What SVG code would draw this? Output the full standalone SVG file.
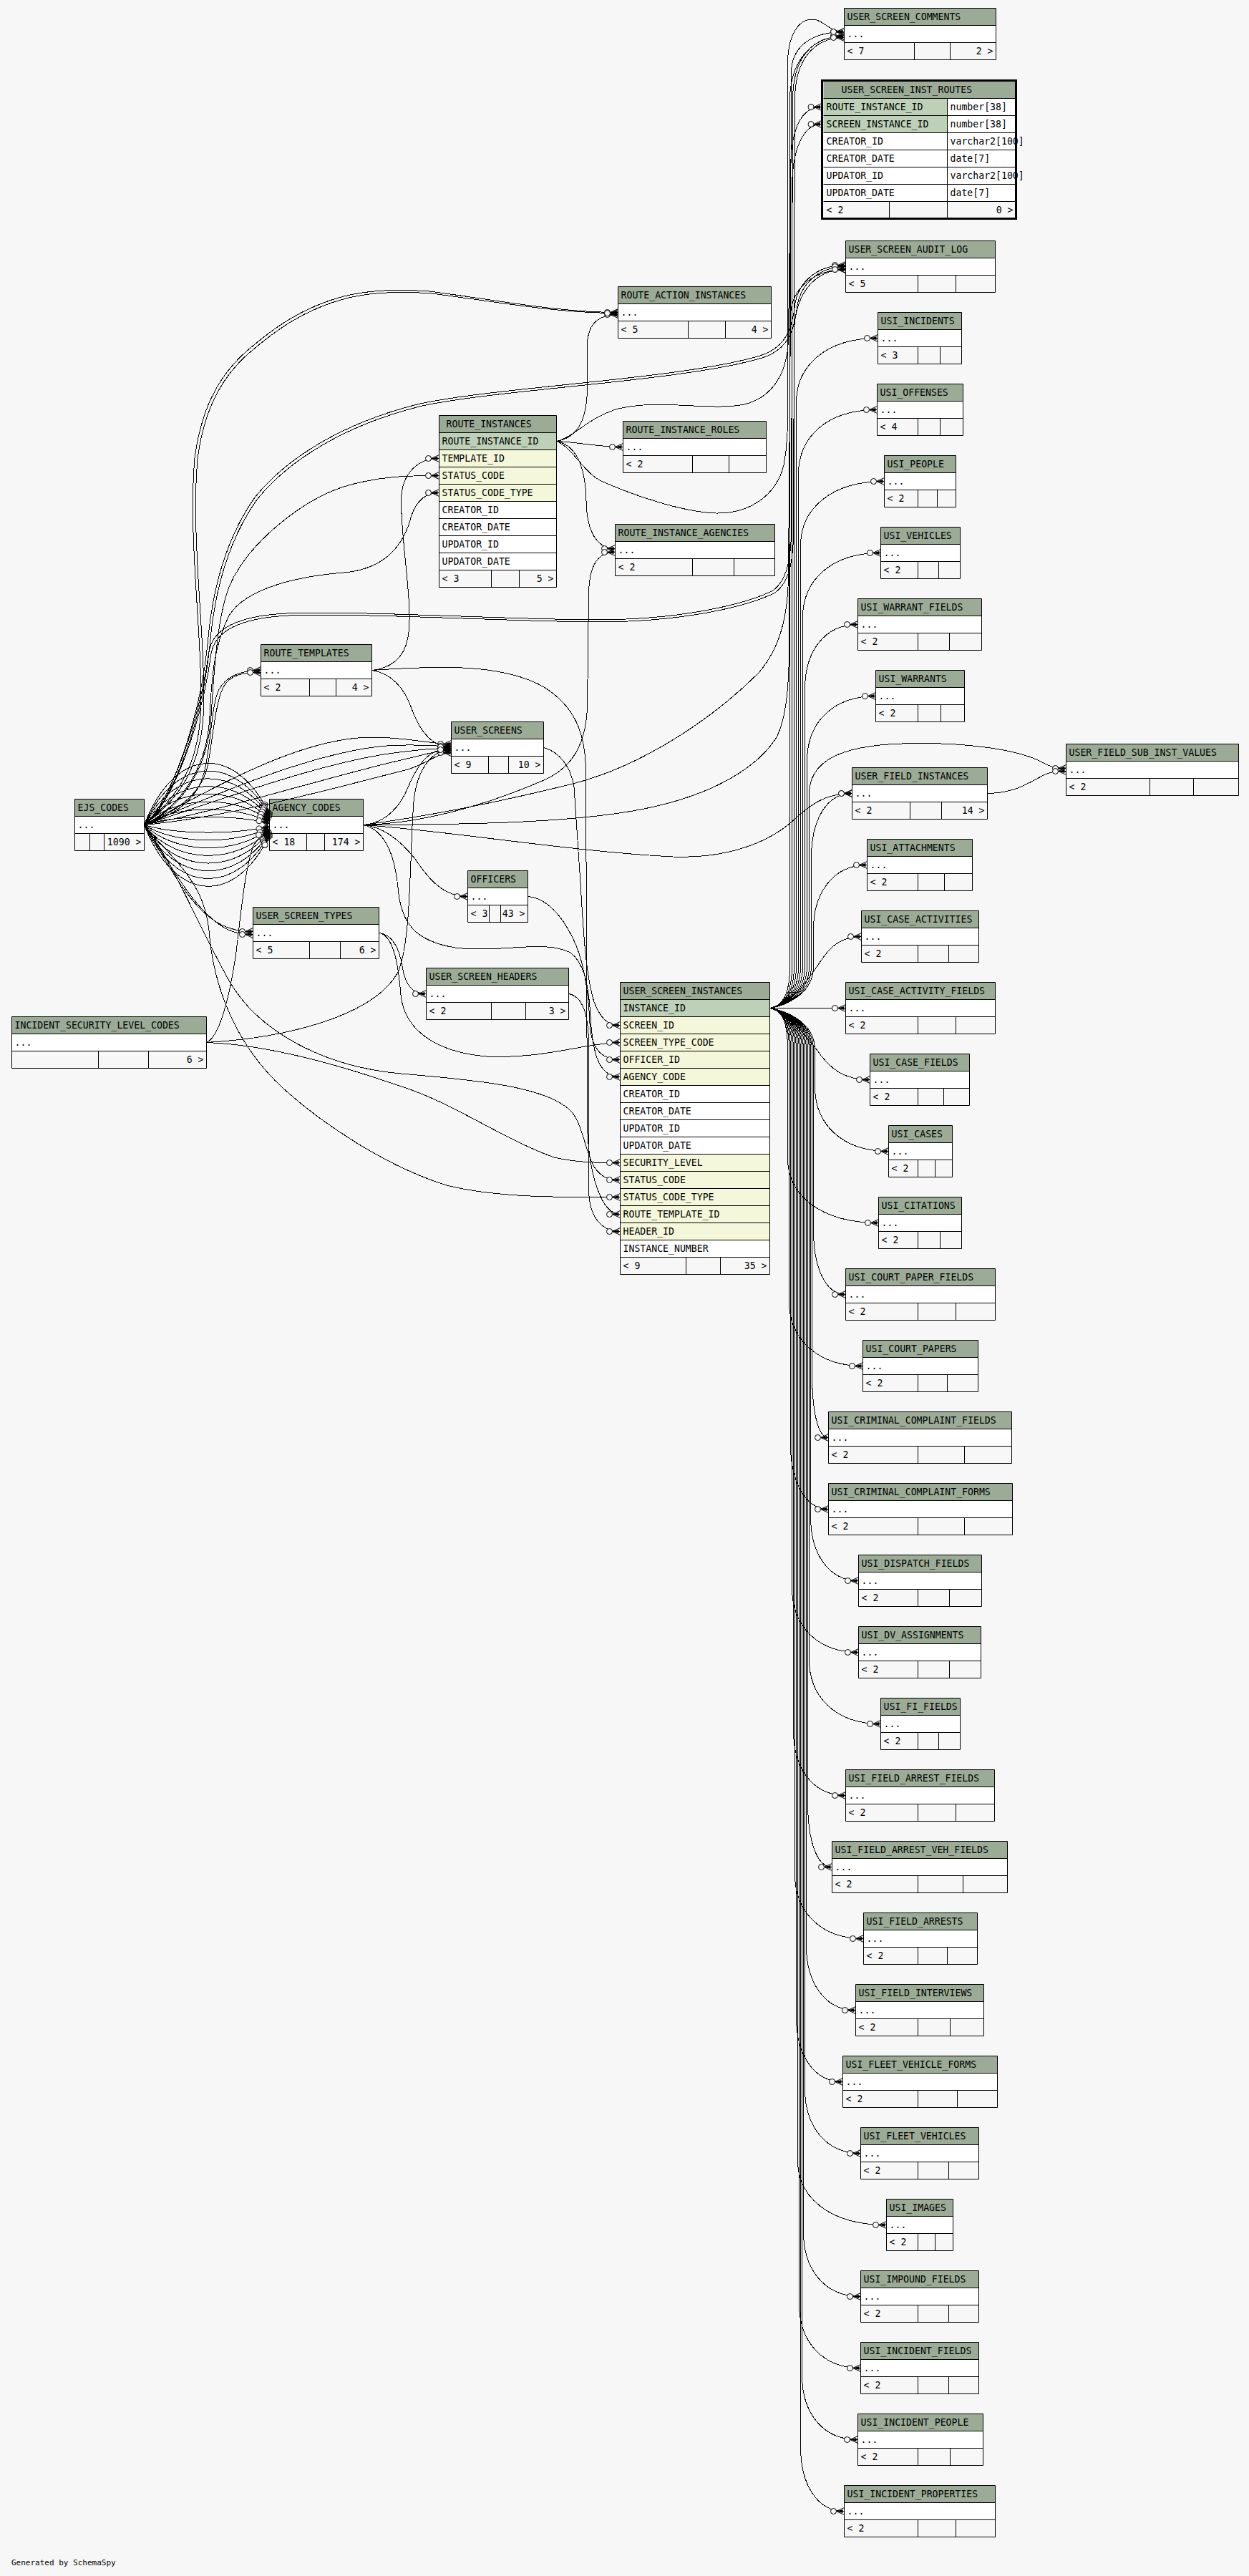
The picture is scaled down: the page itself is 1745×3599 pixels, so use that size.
<svg xmlns="http://www.w3.org/2000/svg" width="1745" height="3599" viewBox="0 0 1745 3599">
<defs>
<style>
.t{font-family:"DejaVu Sans Mono","Liberation Mono",monospace;font-size:13.2px;fill:#000}
.e{text-anchor:end}
.h{fill:#9bab96}.w{fill:#fff}.pk{fill:#bed1b8}.fk{fill:#f4f7da}.f{fill:#f7f7f7}
.b{fill:none;stroke:#000;stroke-width:1}
#edges path{fill:none;stroke:#000;stroke-width:1;marker-end:url(#m);shape-rendering:crispEdges}
</style>
<marker id="m" viewBox="-22 -8 24 16" markerWidth="24" markerHeight="16" refX="0" refY="0" orient="auto" markerUnits="userSpaceOnUse">
<path d="M0,-5 L-11,0 L0,5 M-11,0 L0,0" fill="none" stroke="#000" stroke-width="1"/>
<path d="M-11,0 L-2,-2.5 L-2,2.5 Z" fill="#000"/>
<circle cx="-15" cy="0" r="4" fill="#f7f7f7" stroke="#000" stroke-width="1"/>
</marker>
</defs>
<rect width="1745" height="3599" fill="#f7f7f7"/>

<g id="USER_SCREEN_COMMENTS"><rect class="h" x="1179.5" y="11.5" width="212" height="24"/><rect class="w" x="1179.5" y="35.5" width="212" height="24"/><rect class="f" x="1179.5" y="59.5" width="212" height="24"/><path class="b" d="M1179.5,11.5h212v72h-212z M1179.5,35.5h212 M1179.5,59.5h212 M1277.5,59.5v24 M1327.5,59.5v24"/><text class="t" x="1183.5" y="28">USER_SCREEN_COMMENTS</text><text class="t" x="1183.5" y="52">...</text><text class="t" x="1183.5" y="76">&lt; 7</text><text class="t e" x="1387.5" y="76">2 &gt;</text></g>

<g id="USER_SCREEN_INST_ROUTES">
<rect class="h" x="1150.5" y="113.5" width="269" height="24"/>
<rect class="pk" x="1150.5" y="137.5" width="173" height="48"/>
<rect class="w" x="1323.5" y="137.5" width="96" height="48"/>
<rect class="w" x="1150.5" y="185.5" width="269" height="96"/>
<rect class="f" x="1150.5" y="281.5" width="269" height="24"/>
<path class="b" d="M1150.5,137.5h269 M1150.5,161.5h269 M1150.5,185.5h269 M1150.5,209.5h269 M1150.5,233.5h269 M1150.5,257.5h269 M1150.5,281.5h269 M1323.5,137.5v168 M1242.5,281.5v24"/>
<text class="t" x="1175.5" y="130">USER_SCREEN_INST_ROUTES</text>
<text class="t" x="1154.5" y="154">ROUTE_INSTANCE_ID</text><text class="t" x="1327.5" y="154">number[38]</text>
<text class="t" x="1154.5" y="178">SCREEN_INSTANCE_ID</text><text class="t" x="1327.5" y="178">number[38]</text>
<text class="t" x="1154.5" y="202">CREATOR_ID</text><text class="t" x="1327.5" y="202">varchar2[100]</text>
<text class="t" x="1154.5" y="226">CREATOR_DATE</text><text class="t" x="1327.5" y="226">date[7]</text>
<text class="t" x="1154.5" y="250">UPDATOR_ID</text><text class="t" x="1327.5" y="250">varchar2[100]</text>
<text class="t" x="1154.5" y="274">UPDATOR_DATE</text><text class="t" x="1327.5" y="274">date[7]</text>
<text class="t" x="1154.5" y="298">&lt; 2</text><text class="t e" x="1415.5" y="298">0 &gt;</text>
<rect x="1148.5" y="112.5" width="271" height="193" fill="none" stroke="#000" stroke-width="3"/>
</g>

<g id="USER_SCREEN_AUDIT_LOG"><rect class="h" x="1181.5" y="336.5" width="209" height="24"/><rect class="w" x="1181.5" y="360.5" width="209" height="24"/><rect class="f" x="1181.5" y="384.5" width="209" height="24"/><path class="b" d="M1181.5,336.5h209v72h-209z M1181.5,360.5h209 M1181.5,384.5h209 M1282.5,384.5v24 M1335.5,384.5v24"/><text class="t" x="1185.5" y="353">USER_SCREEN_AUDIT_LOG</text><text class="t" x="1185.5" y="377">...</text><text class="t" x="1185.5" y="401">&lt; 5</text></g>

<g id="ROUTE_ACTION_INSTANCES"><rect class="h" x="863.5" y="400.5" width="214" height="24"/><rect class="w" x="863.5" y="424.5" width="214" height="24"/><rect class="f" x="863.5" y="448.5" width="214" height="24"/><path class="b" d="M863.5,400.5h214v72h-214z M863.5,424.5h214 M863.5,448.5h214 M961.5,448.5v24 M1013.5,448.5v24"/><text class="t" x="867.5" y="417">ROUTE_ACTION_INSTANCES</text><text class="t" x="867.5" y="441">...</text><text class="t" x="867.5" y="465">&lt; 5</text><text class="t e" x="1073.5" y="465">4 &gt;</text></g>

<g id="ROUTE_INSTANCES">
<rect class="h" x="613.5" y="580.5" width="164" height="24"/>
<rect class="pk" x="613.5" y="604.5" width="164" height="24"/>
<rect class="fk" x="613.5" y="628.5" width="164" height="72"/>
<rect class="w" x="613.5" y="700.5" width="164" height="96"/>
<rect class="f" x="613.5" y="796.5" width="164" height="24"/>
<path class="b" d="M613.5,580.5h164v240h-164z M613.5,604.5h164 M613.5,628.5h164 M613.5,652.5h164 M613.5,676.5h164 M613.5,700.5h164 M613.5,724.5h164 M613.5,748.5h164 M613.5,772.5h164 M613.5,796.5h164 M686.5,796.5v24 M725.5,796.5v24"/>
<text class="t" x="623.5" y="597">ROUTE_INSTANCES</text>
<text class="t" x="617.5" y="621">ROUTE_INSTANCE_ID</text>
<text class="t" x="617.5" y="645">TEMPLATE_ID</text>
<text class="t" x="617.5" y="669">STATUS_CODE</text>
<text class="t" x="617.5" y="693">STATUS_CODE_TYPE</text>
<text class="t" x="617.5" y="717">CREATOR_ID</text>
<text class="t" x="617.5" y="741">CREATOR_DATE</text>
<text class="t" x="617.5" y="765">UPDATOR_ID</text>
<text class="t" x="617.5" y="789">UPDATOR_DATE</text>
<text class="t" x="617.5" y="813">&lt; 3</text><text class="t e" x="773.5" y="813">5 &gt;</text>
</g>

<g id="ROUTE_INSTANCE_ROLES"><rect class="h" x="870.5" y="588.5" width="200" height="24"/><rect class="w" x="870.5" y="612.5" width="200" height="24"/><rect class="f" x="870.5" y="636.5" width="200" height="24"/><path class="b" d="M870.5,588.5h200v72h-200z M870.5,612.5h200 M870.5,636.5h200 M967.5,636.5v24 M1018.5,636.5v24"/><text class="t" x="874.5" y="605">ROUTE_INSTANCE_ROLES</text><text class="t" x="874.5" y="629">...</text><text class="t" x="874.5" y="653">&lt; 2</text></g>

<g id="ROUTE_INSTANCE_AGENCIES"><rect class="h" x="859.5" y="732.5" width="223" height="24"/><rect class="w" x="859.5" y="756.5" width="223" height="24"/><rect class="f" x="859.5" y="780.5" width="223" height="24"/><path class="b" d="M859.5,732.5h223v72h-223z M859.5,756.5h223 M859.5,780.5h223 M967.5,780.5v24 M1025.5,780.5v24"/><text class="t" x="863.5" y="749">ROUTE_INSTANCE_AGENCIES</text><text class="t" x="863.5" y="773">...</text><text class="t" x="863.5" y="797">&lt; 2</text></g>

<g id="ROUTE_TEMPLATES"><rect class="h" x="364.5" y="900.5" width="155" height="24"/><rect class="w" x="364.5" y="924.5" width="155" height="24"/><rect class="f" x="364.5" y="948.5" width="155" height="24"/><path class="b" d="M364.5,900.5h155v72h-155z M364.5,924.5h155 M364.5,948.5h155 M432.5,948.5v24 M469.5,948.5v24"/><text class="t" x="368.5" y="917">ROUTE_TEMPLATES</text><text class="t" x="368.5" y="941">...</text><text class="t" x="368.5" y="965">&lt; 2</text><text class="t e" x="515.5" y="965">4 &gt;</text></g>

<g id="USER_SCREENS"><rect class="h" x="630.5" y="1008.5" width="129" height="24"/><rect class="w" x="630.5" y="1032.5" width="129" height="24"/><rect class="f" x="630.5" y="1056.5" width="129" height="24"/><path class="b" d="M630.5,1008.5h129v72h-129z M630.5,1032.5h129 M630.5,1056.5h129 M682.5,1056.5v24 M710.5,1056.5v24"/><text class="t" x="634.5" y="1025">USER_SCREENS</text><text class="t" x="634.5" y="1049">...</text><text class="t" x="634.5" y="1073">&lt; 9</text><text class="t e" x="755.5" y="1073">10 &gt;</text></g>

<g id="EJS_CODES"><rect class="h" x="104.5" y="1116.5" width="97" height="24"/><rect class="w" x="104.5" y="1140.5" width="97" height="24"/><rect class="f" x="104.5" y="1164.5" width="97" height="24"/><path class="b" d="M104.5,1116.5h97v72h-97z M104.5,1140.5h97 M104.5,1164.5h97 M125.5,1164.5v24 M145.5,1164.5v24"/><text class="t" x="108.5" y="1133">EJS_CODES</text><text class="t" x="108.5" y="1157">...</text><text class="t e" x="197.5" y="1181">1090 &gt;</text></g>

<g id="AGENCY_CODES"><rect class="h" x="376.5" y="1116.5" width="131" height="24"/><rect class="w" x="376.5" y="1140.5" width="131" height="24"/><rect class="f" x="376.5" y="1164.5" width="131" height="24"/><path class="b" d="M376.5,1116.5h131v72h-131z M376.5,1140.5h131 M376.5,1164.5h131 M428.5,1164.5v24 M453.5,1164.5v24"/><text class="t" x="380.5" y="1133">AGENCY_CODES</text><text class="t" x="380.5" y="1157">...</text><text class="t" x="380.5" y="1181">&lt; 18</text><text class="t e" x="503.5" y="1181">174 &gt;</text></g>

<g id="OFFICERS"><rect class="h" x="653.5" y="1216.5" width="84" height="24"/><rect class="w" x="653.5" y="1240.5" width="84" height="24"/><rect class="f" x="653.5" y="1264.5" width="84" height="24"/><path class="b" d="M653.5,1216.5h84v72h-84z M653.5,1240.5h84 M653.5,1264.5h84 M683.5,1264.5v24 M699.5,1264.5v24"/><text class="t" x="657.5" y="1233">OFFICERS</text><text class="t" x="657.5" y="1257">...</text><text class="t" x="657.5" y="1281">&lt; 3</text><text class="t e" x="733.5" y="1281">43 &gt;</text></g>

<g id="USER_SCREEN_TYPES"><rect class="h" x="353.5" y="1267.5" width="176" height="24"/><rect class="w" x="353.5" y="1291.5" width="176" height="24"/><rect class="f" x="353.5" y="1315.5" width="176" height="24"/><path class="b" d="M353.5,1267.5h176v72h-176z M353.5,1291.5h176 M353.5,1315.5h176 M432.5,1315.5v24 M475.5,1315.5v24"/><text class="t" x="357.5" y="1284">USER_SCREEN_TYPES</text><text class="t" x="357.5" y="1308">...</text><text class="t" x="357.5" y="1332">&lt; 5</text><text class="t e" x="525.5" y="1332">6 &gt;</text></g>

<g id="USER_SCREEN_HEADERS"><rect class="h" x="595.5" y="1352.5" width="199" height="24"/><rect class="w" x="595.5" y="1376.5" width="199" height="24"/><rect class="f" x="595.5" y="1400.5" width="199" height="24"/><path class="b" d="M595.5,1352.5h199v72h-199z M595.5,1376.5h199 M595.5,1400.5h199 M686.5,1400.5v24 M734.5,1400.5v24"/><text class="t" x="599.5" y="1369">USER_SCREEN_HEADERS</text><text class="t" x="599.5" y="1393">...</text><text class="t" x="599.5" y="1417">&lt; 2</text><text class="t e" x="790.5" y="1417">3 &gt;</text></g>

<g id="INCIDENT_SECURITY_LEVEL_CODES"><rect class="h" x="16.5" y="1420.5" width="272" height="24"/><rect class="w" x="16.5" y="1444.5" width="272" height="24"/><rect class="f" x="16.5" y="1468.5" width="272" height="24"/><path class="b" d="M16.5,1420.5h272v72h-272z M16.5,1444.5h272 M16.5,1468.5h272 M137.5,1468.5v24 M207.5,1468.5v24"/><text class="t" x="20.5" y="1437">INCIDENT_SECURITY_LEVEL_CODES</text><text class="t" x="20.5" y="1461">...</text><text class="t e" x="284.5" y="1485">6 &gt;</text></g>

<g id="USER_SCREEN_INSTANCES">
<rect class="h" x="866.5" y="1372.5" width="209" height="24"/>
<rect class="pk" x="866.5" y="1396.5" width="209" height="24"/>
<rect class="fk" x="866.5" y="1420.5" width="209" height="96"/>
<rect class="w" x="866.5" y="1516.5" width="209" height="96"/>
<rect class="fk" x="866.5" y="1612.5" width="209" height="120"/>
<rect class="w" x="866.5" y="1732.5" width="209" height="24"/>
<rect class="f" x="866.5" y="1756.5" width="209" height="24"/>
<path class="b" d="M866.5,1372.5h209v408h-209z M866.5,1396.5h209 M866.5,1420.5h209 M866.5,1444.5h209 M866.5,1468.5h209 M866.5,1492.5h209 M866.5,1516.5h209 M866.5,1540.5h209 M866.5,1564.5h209 M866.5,1588.5h209 M866.5,1612.5h209 M866.5,1636.5h209 M866.5,1660.5h209 M866.5,1684.5h209 M866.5,1708.5h209 M866.5,1732.5h209 M866.5,1756.5h209 M958.5,1756.5v24 M1006.5,1756.5v24"/>
<text class="t" x="870.5" y="1389">USER_SCREEN_INSTANCES</text>
<text class="t" x="870.5" y="1413">INSTANCE_ID</text>
<text class="t" x="870.5" y="1437">SCREEN_ID</text>
<text class="t" x="870.5" y="1461">SCREEN_TYPE_CODE</text>
<text class="t" x="870.5" y="1485">OFFICER_ID</text>
<text class="t" x="870.5" y="1509">AGENCY_CODE</text>
<text class="t" x="870.5" y="1533">CREATOR_ID</text>
<text class="t" x="870.5" y="1557">CREATOR_DATE</text>
<text class="t" x="870.5" y="1581">UPDATOR_ID</text>
<text class="t" x="870.5" y="1605">UPDATOR_DATE</text>
<text class="t" x="870.5" y="1629">SECURITY_LEVEL</text>
<text class="t" x="870.5" y="1653">STATUS_CODE</text>
<text class="t" x="870.5" y="1677">STATUS_CODE_TYPE</text>
<text class="t" x="870.5" y="1701">ROUTE_TEMPLATE_ID</text>
<text class="t" x="870.5" y="1725">HEADER_ID</text>
<text class="t" x="870.5" y="1749">INSTANCE_NUMBER</text>
<text class="t" x="870.5" y="1773">&lt; 9</text><text class="t e" x="1071.5" y="1773">35 &gt;</text>
</g>

<g id="USER_FIELD_SUB_INST_VALUES"><rect class="h" x="1489.5" y="1039.5" width="241" height="24"/><rect class="w" x="1489.5" y="1063.5" width="241" height="24"/><rect class="f" x="1489.5" y="1087.5" width="241" height="24"/><path class="b" d="M1489.5,1039.5h241v72h-241z M1489.5,1063.5h241 M1489.5,1087.5h241 M1606.5,1087.5v24 M1667.5,1087.5v24"/><text class="t" x="1493.5" y="1056">USER_FIELD_SUB_INST_VALUES</text><text class="t" x="1493.5" y="1080">...</text><text class="t" x="1493.5" y="1104">&lt; 2</text></g>

<g id="USER_FIELD_INSTANCES"><rect class="h" x="1190.5" y="1072.5" width="189" height="24"/><rect class="w" x="1190.5" y="1096.5" width="189" height="24"/><rect class="f" x="1190.5" y="1120.5" width="189" height="24"/><path class="b" d="M1190.5,1072.5h189v72h-189z M1190.5,1096.5h189 M1190.5,1120.5h189 M1271.5,1120.5v24 M1315.5,1120.5v24"/><text class="t" x="1194.5" y="1089">USER_FIELD_INSTANCES</text><text class="t" x="1194.5" y="1113">...</text><text class="t" x="1194.5" y="1137">&lt; 2</text><text class="t e" x="1375.5" y="1137">14 &gt;</text></g>

<g id="USI_INCIDENTS"><rect class="h" x="1226.5" y="436.5" width="117" height="24"/><rect class="w" x="1226.5" y="460.5" width="117" height="24"/><rect class="f" x="1226.5" y="484.5" width="117" height="24"/><path class="b" d="M1226.5,436.5h117v72h-117z M1226.5,460.5h117 M1226.5,484.5h117 M1282.5,484.5v24 M1313.5,484.5v24"/><text class="t" x="1230.5" y="453">USI_INCIDENTS</text><text class="t" x="1230.5" y="477">...</text><text class="t" x="1230.5" y="501">&lt; 3</text></g>
<g id="USI_OFFENSES"><rect class="h" x="1225.5" y="536.5" width="120" height="24"/><rect class="w" x="1225.5" y="560.5" width="120" height="24"/><rect class="f" x="1225.5" y="584.5" width="120" height="24"/><path class="b" d="M1225.5,536.5h120v72h-120z M1225.5,560.5h120 M1225.5,584.5h120 M1282.5,584.5v24 M1313.5,584.5v24"/><text class="t" x="1229.5" y="553">USI_OFFENSES</text><text class="t" x="1229.5" y="577">...</text><text class="t" x="1229.5" y="601">&lt; 4</text></g>
<g id="USI_PEOPLE"><rect class="h" x="1235.5" y="636.5" width="100" height="24"/><rect class="w" x="1235.5" y="660.5" width="100" height="24"/><rect class="f" x="1235.5" y="684.5" width="100" height="24"/><path class="b" d="M1235.5,636.5h100v72h-100z M1235.5,660.5h100 M1235.5,684.5h100 M1282.5,684.5v24 M1309.5,684.5v24"/><text class="t" x="1239.5" y="653">USI_PEOPLE</text><text class="t" x="1239.5" y="677">...</text><text class="t" x="1239.5" y="701">&lt; 2</text></g>
<g id="USI_VEHICLES"><rect class="h" x="1230.5" y="736.5" width="111" height="24"/><rect class="w" x="1230.5" y="760.5" width="111" height="24"/><rect class="f" x="1230.5" y="784.5" width="111" height="24"/><path class="b" d="M1230.5,736.5h111v72h-111z M1230.5,760.5h111 M1230.5,784.5h111 M1282.5,784.5v24 M1311.5,784.5v24"/><text class="t" x="1234.5" y="753">USI_VEHICLES</text><text class="t" x="1234.5" y="777">...</text><text class="t" x="1234.5" y="801">&lt; 2</text></g>
<g id="USI_WARRANT_FIELDS"><rect class="h" x="1198.5" y="836.5" width="173" height="24"/><rect class="w" x="1198.5" y="860.5" width="173" height="24"/><rect class="f" x="1198.5" y="884.5" width="173" height="24"/><path class="b" d="M1198.5,836.5h173v72h-173z M1198.5,860.5h173 M1198.5,884.5h173 M1282.5,884.5v24 M1326.5,884.5v24"/><text class="t" x="1202.5" y="853">USI_WARRANT_FIELDS</text><text class="t" x="1202.5" y="877">...</text><text class="t" x="1202.5" y="901">&lt; 2</text></g>
<g id="USI_WARRANTS"><rect class="h" x="1223.5" y="936.5" width="124" height="24"/><rect class="w" x="1223.5" y="960.5" width="124" height="24"/><rect class="f" x="1223.5" y="984.5" width="124" height="24"/><path class="b" d="M1223.5,936.5h124v72h-124z M1223.5,960.5h124 M1223.5,984.5h124 M1282.5,984.5v24 M1314.5,984.5v24"/><text class="t" x="1227.5" y="953">USI_WARRANTS</text><text class="t" x="1227.5" y="977">...</text><text class="t" x="1227.5" y="1001">&lt; 2</text></g>
<g id="USI_ATTACHMENTS"><rect class="h" x="1211.5" y="1172.5" width="147" height="24"/><rect class="w" x="1211.5" y="1196.5" width="147" height="24"/><rect class="f" x="1211.5" y="1220.5" width="147" height="24"/><path class="b" d="M1211.5,1172.5h147v72h-147z M1211.5,1196.5h147 M1211.5,1220.5h147 M1282.5,1220.5v24 M1319.5,1220.5v24"/><text class="t" x="1215.5" y="1189">USI_ATTACHMENTS</text><text class="t" x="1215.5" y="1213">...</text><text class="t" x="1215.5" y="1237">&lt; 2</text></g>
<g id="USI_CASE_ACTIVITIES"><rect class="h" x="1203.5" y="1272.5" width="164" height="24"/><rect class="w" x="1203.5" y="1296.5" width="164" height="24"/><rect class="f" x="1203.5" y="1320.5" width="164" height="24"/><path class="b" d="M1203.5,1272.5h164v72h-164z M1203.5,1296.5h164 M1203.5,1320.5h164 M1282.5,1320.5v24 M1325.5,1320.5v24"/><text class="t" x="1207.5" y="1289">USI_CASE_ACTIVITIES</text><text class="t" x="1207.5" y="1313">...</text><text class="t" x="1207.5" y="1337">&lt; 2</text></g>
<g id="USI_CASE_ACTIVITY_FIELDS"><rect class="h" x="1181.5" y="1372.5" width="209" height="24"/><rect class="w" x="1181.5" y="1396.5" width="209" height="24"/><rect class="f" x="1181.5" y="1420.5" width="209" height="24"/><path class="b" d="M1181.5,1372.5h209v72h-209z M1181.5,1396.5h209 M1181.5,1420.5h209 M1282.5,1420.5v24 M1335.5,1420.5v24"/><text class="t" x="1185.5" y="1389">USI_CASE_ACTIVITY_FIELDS</text><text class="t" x="1185.5" y="1413">...</text><text class="t" x="1185.5" y="1437">&lt; 2</text></g>
<g id="USI_CASE_FIELDS"><rect class="h" x="1215.5" y="1472.5" width="139" height="24"/><rect class="w" x="1215.5" y="1496.5" width="139" height="24"/><rect class="f" x="1215.5" y="1520.5" width="139" height="24"/><path class="b" d="M1215.5,1472.5h139v72h-139z M1215.5,1496.5h139 M1215.5,1520.5h139 M1282.5,1520.5v24 M1318.5,1520.5v24"/><text class="t" x="1219.5" y="1489">USI_CASE_FIELDS</text><text class="t" x="1219.5" y="1513">...</text><text class="t" x="1219.5" y="1537">&lt; 2</text></g>
<g id="USI_CASES"><rect class="h" x="1241.5" y="1572.5" width="89" height="24"/><rect class="w" x="1241.5" y="1596.5" width="89" height="24"/><rect class="f" x="1241.5" y="1620.5" width="89" height="24"/><path class="b" d="M1241.5,1572.5h89v72h-89z M1241.5,1596.5h89 M1241.5,1620.5h89 M1282.5,1620.5v24 M1306.5,1620.5v24"/><text class="t" x="1245.5" y="1589">USI_CASES</text><text class="t" x="1245.5" y="1613">...</text><text class="t" x="1245.5" y="1637">&lt; 2</text></g>
<g id="USI_CITATIONS"><rect class="h" x="1227.5" y="1672.5" width="116" height="24"/><rect class="w" x="1227.5" y="1696.5" width="116" height="24"/><rect class="f" x="1227.5" y="1720.5" width="116" height="24"/><path class="b" d="M1227.5,1672.5h116v72h-116z M1227.5,1696.5h116 M1227.5,1720.5h116 M1282.5,1720.5v24 M1313.5,1720.5v24"/><text class="t" x="1231.5" y="1689">USI_CITATIONS</text><text class="t" x="1231.5" y="1713">...</text><text class="t" x="1231.5" y="1737">&lt; 2</text></g>
<g id="USI_COURT_PAPER_FIELDS"><rect class="h" x="1181.5" y="1772.5" width="209" height="24"/><rect class="w" x="1181.5" y="1796.5" width="209" height="24"/><rect class="f" x="1181.5" y="1820.5" width="209" height="24"/><path class="b" d="M1181.5,1772.5h209v72h-209z M1181.5,1796.5h209 M1181.5,1820.5h209 M1282.5,1820.5v24 M1335.5,1820.5v24"/><text class="t" x="1185.5" y="1789">USI_COURT_PAPER_FIELDS</text><text class="t" x="1185.5" y="1813">...</text><text class="t" x="1185.5" y="1837">&lt; 2</text></g>
<g id="USI_COURT_PAPERS"><rect class="h" x="1205.5" y="1872.5" width="161" height="24"/><rect class="w" x="1205.5" y="1896.5" width="161" height="24"/><rect class="f" x="1205.5" y="1920.5" width="161" height="24"/><path class="b" d="M1205.5,1872.5h161v72h-161z M1205.5,1896.5h161 M1205.5,1920.5h161 M1282.5,1920.5v24 M1323.5,1920.5v24"/><text class="t" x="1209.5" y="1889">USI_COURT_PAPERS</text><text class="t" x="1209.5" y="1913">...</text><text class="t" x="1209.5" y="1937">&lt; 2</text></g>
<g id="USI_CRIMINAL_COMPLAINT_FIELDS"><rect class="h" x="1157.5" y="1972.5" width="256" height="24"/><rect class="w" x="1157.5" y="1996.5" width="256" height="24"/><rect class="f" x="1157.5" y="2020.5" width="256" height="24"/><path class="b" d="M1157.5,1972.5h256v72h-256z M1157.5,1996.5h256 M1157.5,2020.5h256 M1282.5,2020.5v24 M1347.5,2020.5v24"/><text class="t" x="1161.5" y="1989">USI_CRIMINAL_COMPLAINT_FIELDS</text><text class="t" x="1161.5" y="2013">...</text><text class="t" x="1161.5" y="2037">&lt; 2</text></g>
<g id="USI_CRIMINAL_COMPLAINT_FORMS"><rect class="h" x="1157.5" y="2072.5" width="257" height="24"/><rect class="w" x="1157.5" y="2096.5" width="257" height="24"/><rect class="f" x="1157.5" y="2120.5" width="257" height="24"/><path class="b" d="M1157.5,2072.5h257v72h-257z M1157.5,2096.5h257 M1157.5,2120.5h257 M1282.5,2120.5v24 M1347.5,2120.5v24"/><text class="t" x="1161.5" y="2089">USI_CRIMINAL_COMPLAINT_FORMS</text><text class="t" x="1161.5" y="2113">...</text><text class="t" x="1161.5" y="2137">&lt; 2</text></g>
<g id="USI_DISPATCH_FIELDS"><rect class="h" x="1199.5" y="2172.5" width="172" height="24"/><rect class="w" x="1199.5" y="2196.5" width="172" height="24"/><rect class="f" x="1199.5" y="2220.5" width="172" height="24"/><path class="b" d="M1199.5,2172.5h172v72h-172z M1199.5,2196.5h172 M1199.5,2220.5h172 M1282.5,2220.5v24 M1326.5,2220.5v24"/><text class="t" x="1203.5" y="2189">USI_DISPATCH_FIELDS</text><text class="t" x="1203.5" y="2213">...</text><text class="t" x="1203.5" y="2237">&lt; 2</text></g>
<g id="USI_DV_ASSIGNMENTS"><rect class="h" x="1199.5" y="2272.5" width="171" height="24"/><rect class="w" x="1199.5" y="2296.5" width="171" height="24"/><rect class="f" x="1199.5" y="2320.5" width="171" height="24"/><path class="b" d="M1199.5,2272.5h171v72h-171z M1199.5,2296.5h171 M1199.5,2320.5h171 M1282.5,2320.5v24 M1326.5,2320.5v24"/><text class="t" x="1203.5" y="2289">USI_DV_ASSIGNMENTS</text><text class="t" x="1203.5" y="2313">...</text><text class="t" x="1203.5" y="2337">&lt; 2</text></g>
<g id="USI_FI_FIELDS"><rect class="h" x="1230.5" y="2372.5" width="111" height="24"/><rect class="w" x="1230.5" y="2396.5" width="111" height="24"/><rect class="f" x="1230.5" y="2420.5" width="111" height="24"/><path class="b" d="M1230.5,2372.5h111v72h-111z M1230.5,2396.5h111 M1230.5,2420.5h111 M1282.5,2420.5v24 M1311.5,2420.5v24"/><text class="t" x="1234.5" y="2389">USI_FI_FIELDS</text><text class="t" x="1234.5" y="2413">...</text><text class="t" x="1234.5" y="2437">&lt; 2</text></g>
<g id="USI_FIELD_ARREST_FIELDS"><rect class="h" x="1181.5" y="2472.5" width="208" height="24"/><rect class="w" x="1181.5" y="2496.5" width="208" height="24"/><rect class="f" x="1181.5" y="2520.5" width="208" height="24"/><path class="b" d="M1181.5,2472.5h208v72h-208z M1181.5,2496.5h208 M1181.5,2520.5h208 M1282.5,2520.5v24 M1335.5,2520.5v24"/><text class="t" x="1185.5" y="2489">USI_FIELD_ARREST_FIELDS</text><text class="t" x="1185.5" y="2513">...</text><text class="t" x="1185.5" y="2537">&lt; 2</text></g>
<g id="USI_FIELD_ARREST_VEH_FIELDS"><rect class="h" x="1162.5" y="2572.5" width="245" height="24"/><rect class="w" x="1162.5" y="2596.5" width="245" height="24"/><rect class="f" x="1162.5" y="2620.5" width="245" height="24"/><path class="b" d="M1162.5,2572.5h245v72h-245z M1162.5,2596.5h245 M1162.5,2620.5h245 M1282.5,2620.5v24 M1345.5,2620.5v24"/><text class="t" x="1166.5" y="2589">USI_FIELD_ARREST_VEH_FIELDS</text><text class="t" x="1166.5" y="2613">...</text><text class="t" x="1166.5" y="2637">&lt; 2</text></g>
<g id="USI_FIELD_ARRESTS"><rect class="h" x="1206.5" y="2672.5" width="159" height="24"/><rect class="w" x="1206.5" y="2696.5" width="159" height="24"/><rect class="f" x="1206.5" y="2720.5" width="159" height="24"/><path class="b" d="M1206.5,2672.5h159v72h-159z M1206.5,2696.5h159 M1206.5,2720.5h159 M1282.5,2720.5v24 M1323.5,2720.5v24"/><text class="t" x="1210.5" y="2689">USI_FIELD_ARRESTS</text><text class="t" x="1210.5" y="2713">...</text><text class="t" x="1210.5" y="2737">&lt; 2</text></g>
<g id="USI_FIELD_INTERVIEWS"><rect class="h" x="1195.5" y="2772.5" width="179" height="24"/><rect class="w" x="1195.5" y="2796.5" width="179" height="24"/><rect class="f" x="1195.5" y="2820.5" width="179" height="24"/><path class="b" d="M1195.5,2772.5h179v72h-179z M1195.5,2796.5h179 M1195.5,2820.5h179 M1282.5,2820.5v24 M1327.5,2820.5v24"/><text class="t" x="1199.5" y="2789">USI_FIELD_INTERVIEWS</text><text class="t" x="1199.5" y="2813">...</text><text class="t" x="1199.5" y="2837">&lt; 2</text></g>
<g id="USI_FLEET_VEHICLE_FORMS"><rect class="h" x="1177.5" y="2872.5" width="216" height="24"/><rect class="w" x="1177.5" y="2896.5" width="216" height="24"/><rect class="f" x="1177.5" y="2920.5" width="216" height="24"/><path class="b" d="M1177.5,2872.5h216v72h-216z M1177.5,2896.5h216 M1177.5,2920.5h216 M1282.5,2920.5v24 M1337.5,2920.5v24"/><text class="t" x="1181.5" y="2889">USI_FLEET_VEHICLE_FORMS</text><text class="t" x="1181.5" y="2913">...</text><text class="t" x="1181.5" y="2937">&lt; 2</text></g>
<g id="USI_FLEET_VEHICLES"><rect class="h" x="1202.5" y="2972.5" width="165" height="24"/><rect class="w" x="1202.5" y="2996.5" width="165" height="24"/><rect class="f" x="1202.5" y="3020.5" width="165" height="24"/><path class="b" d="M1202.5,2972.5h165v72h-165z M1202.5,2996.5h165 M1202.5,3020.5h165 M1282.5,3020.5v24 M1325.5,3020.5v24"/><text class="t" x="1206.5" y="2989">USI_FLEET_VEHICLES</text><text class="t" x="1206.5" y="3013">...</text><text class="t" x="1206.5" y="3037">&lt; 2</text></g>
<g id="USI_IMAGES"><rect class="h" x="1238.5" y="3072.5" width="93" height="24"/><rect class="w" x="1238.5" y="3096.5" width="93" height="24"/><rect class="f" x="1238.5" y="3120.5" width="93" height="24"/><path class="b" d="M1238.5,3072.5h93v72h-93z M1238.5,3096.5h93 M1238.5,3120.5h93 M1282.5,3120.5v24 M1306.5,3120.5v24"/><text class="t" x="1242.5" y="3089">USI_IMAGES</text><text class="t" x="1242.5" y="3113">...</text><text class="t" x="1242.5" y="3137">&lt; 2</text></g>
<g id="USI_IMPOUND_FIELDS"><rect class="h" x="1202.5" y="3172.5" width="165" height="24"/><rect class="w" x="1202.5" y="3196.5" width="165" height="24"/><rect class="f" x="1202.5" y="3220.5" width="165" height="24"/><path class="b" d="M1202.5,3172.5h165v72h-165z M1202.5,3196.5h165 M1202.5,3220.5h165 M1282.5,3220.5v24 M1325.5,3220.5v24"/><text class="t" x="1206.5" y="3189">USI_IMPOUND_FIELDS</text><text class="t" x="1206.5" y="3213">...</text><text class="t" x="1206.5" y="3237">&lt; 2</text></g>
<g id="USI_INCIDENT_FIELDS"><rect class="h" x="1202.5" y="3272.5" width="165" height="24"/><rect class="w" x="1202.5" y="3296.5" width="165" height="24"/><rect class="f" x="1202.5" y="3320.5" width="165" height="24"/><path class="b" d="M1202.5,3272.5h165v72h-165z M1202.5,3296.5h165 M1202.5,3320.5h165 M1282.5,3320.5v24 M1325.5,3320.5v24"/><text class="t" x="1206.5" y="3289">USI_INCIDENT_FIELDS</text><text class="t" x="1206.5" y="3313">...</text><text class="t" x="1206.5" y="3337">&lt; 2</text></g>
<g id="USI_INCIDENT_PEOPLE"><rect class="h" x="1198.5" y="3372.5" width="175" height="24"/><rect class="w" x="1198.5" y="3396.5" width="175" height="24"/><rect class="f" x="1198.5" y="3420.5" width="175" height="24"/><path class="b" d="M1198.5,3372.5h175v72h-175z M1198.5,3396.5h175 M1198.5,3420.5h175 M1282.5,3420.5v24 M1327.5,3420.5v24"/><text class="t" x="1202.5" y="3389">USI_INCIDENT_PEOPLE</text><text class="t" x="1202.5" y="3413">...</text><text class="t" x="1202.5" y="3437">&lt; 2</text></g>
<g id="USI_INCIDENT_PROPERTIES"><rect class="h" x="1179.5" y="3472.5" width="211" height="24"/><rect class="w" x="1179.5" y="3496.5" width="211" height="24"/><rect class="f" x="1179.5" y="3520.5" width="211" height="24"/><path class="b" d="M1179.5,3472.5h211v72h-211z M1179.5,3496.5h211 M1179.5,3520.5h211 M1282.5,3520.5v24 M1335.5,3520.5v24"/><text class="t" x="1183.5" y="3489">USI_INCIDENT_PROPERTIES</text><text class="t" x="1183.5" y="3513">...</text><text class="t" x="1183.5" y="3537">&lt; 2</text></g>

<g id="edges">
<!-- USER_SCREEN_INSTANCES children (upper) -->
<path d="M1075.5,1408.5 C1092,1406 1103.5,1392 1103.5,1350 L1103.5,140 C1103.5,90 1130,50.5 1179.5,50.5"/>
<path d="M1075.5,1408.5 C1092,1406 1106.5,1392 1106.5,1350 L1106.5,263.5 C1106.5,213.5 1120,173.5 1148,173.5"/>
<path d="M1075.5,1408.5 C1092,1406 1109.5,1392 1109.5,1350 L1109.5,466 C1109.5,416 1134,376.5 1181.5,376.5"/>
<path d="M1075.5,1408.5 C1092,1406 1112.5,1392 1112.5,1350 L1112.5,562.5 C1112.5,512.5 1152,472.5 1226.5,472.5"/>
<path d="M1075.5,1408.5 C1092,1406 1115.5,1392 1115.5,1350 L1115.5,662.5 C1115.5,612.5 1153,572.5 1225.5,572.5"/>
<path d="M1075.5,1408.5 C1092,1406 1118.5,1392 1118.5,1350 L1118.5,762.5 C1118.5,712.5 1159,672.5 1235.5,672.5"/>
<path d="M1075.5,1408.5 C1092,1406 1121.5,1392 1121.5,1350 L1121.5,862.5 C1121.5,812.5 1159,772.5 1230.5,772.5"/>
<path d="M1075.5,1408.5 C1092,1406 1124.5,1392 1124.5,1350 L1124.5,962.5 C1124.5,912.5 1150,872.5 1198.5,872.5"/>
<path d="M1075.5,1408.5 C1092,1406 1127.5,1392 1127.5,1350 L1127.5,1062.5 C1127.5,1012.5 1161,972.5 1223.5,972.5"/>
<path d="M1075.5,1408.5 C1092,1406 1130.5,1392 1130.5,1350 L1130.5,1110 C1130.5,1065 1170,1042 1260,1039 C1350,1036 1420,1048 1450,1062 C1465,1070 1472,1073.5 1489.5,1073.5"/>
<path d="M1075.5,1408.5 C1092,1406 1133.5,1392 1133.5,1350 L1133.5,1198.5 C1133.5,1148.5 1153,1108.5 1190.5,1108.5"/>
<path d="M1075.5,1408.5 C1092,1406 1136.5,1392 1136.5,1350 L1136.5,1298.5 C1136.5,1248.5 1163,1208.5 1211.5,1208.5"/>
<path d="M1075.5,1408.5 C1105,1402 1125,1375 1145,1345 C1160,1322 1175,1308.5 1203.5,1308.5"/>
<path d="M1075.5,1408.5 L1181.5,1408.5"/>
<!-- USER_SCREEN_INSTANCES children (lower) -->
<path d="M1075.5,1408.5 C1100,1415 1120,1440 1140,1465 C1160,1495 1180,1508.5 1215.5,1508.5"/>
<path d="M1075.5,1408.5 C1092,1411 1138.5,1425 1138.5,1467 L1138.5,1518.5 C1138.5,1568.5 1174,1608.5 1241.5,1608.5"/>
<path d="M1075.5,1408.5 C1092,1411 1100.5,1425 1100.5,1467 L1100.5,1618.5 C1100.5,1668.5 1145,1708.5 1227.5,1708.5"/>
<path d="M1075.5,1408.5 C1092,1411 1136.5,1425 1136.5,1467 L1136.5,1718.5 C1136.5,1768.5 1152,1808.5 1181.5,1808.5"/>
<path d="M1075.5,1408.5 C1092,1411 1102.5,1425 1102.5,1467 L1102.5,1818.5 C1102.5,1868.5 1140,1908.5 1205.5,1908.5"/>
<path d="M1075.5,1408.5 C1092,1411 1134.5,1425 1134.5,1467 L1134.5,1918.5 C1134.5,1968.5 1142,2008.5 1157.5,2008.5"/>
<path d="M1075.5,1408.5 C1092,1411 1104.5,1425 1104.5,1467 L1104.5,2018.5 C1104.5,2068.5 1124,2108.5 1157.5,2108.5"/>
<path d="M1075.5,1408.5 C1092,1411 1132.5,1425 1132.5,1467 L1132.5,2118.5 C1132.5,2168.5 1156,2208.5 1199.5,2208.5"/>
<path d="M1075.5,1408.5 C1092,1411 1106.5,1425 1106.5,1467 L1106.5,2218.5 C1106.5,2268.5 1139,2308.5 1199.5,2308.5"/>
<path d="M1075.5,1408.5 C1092,1411 1130.5,1425 1130.5,1467 L1130.5,2318.5 C1130.5,2368.5 1165,2408.5 1230.5,2408.5"/>
<path d="M1075.5,1408.5 C1092,1411 1108.5,1425 1108.5,1467 L1108.5,2418.5 C1108.5,2468.5 1134,2508.5 1181.5,2508.5"/>
<path d="M1075.5,1408.5 C1092,1411 1128.5,1425 1128.5,1467 L1128.5,2518.5 C1128.5,2568.5 1140,2608.5 1162.5,2608.5"/>
<path d="M1075.5,1408.5 C1092,1411 1110.5,1425 1110.5,1467 L1110.5,2618.5 C1110.5,2668.5 1144,2708.5 1206.5,2708.5"/>
<path d="M1075.5,1408.5 C1092,1411 1126.5,1425 1126.5,1467 L1126.5,2718.5 C1126.5,2768.5 1151,2808.5 1195.5,2808.5"/>
<path d="M1075.5,1408.5 C1092,1411 1112.5,1425 1112.5,1467 L1112.5,2818.5 C1112.5,2868.5 1135,2908.5 1177.5,2908.5"/>
<path d="M1075.5,1408.5 C1092,1411 1124.5,1425 1124.5,1467 L1124.5,2918.5 C1124.5,2968.5 1152,3008.5 1202.5,3008.5"/>
<path d="M1075.5,1408.5 C1092,1411 1114.5,1425 1114.5,1467 L1114.5,3018.5 C1114.5,3068.5 1157,3108.5 1238.5,3108.5"/>
<path d="M1075.5,1408.5 C1092,1411 1122.5,1425 1122.5,1467 L1122.5,3118.5 C1122.5,3168.5 1150,3208.5 1202.5,3208.5"/>
<path d="M1075.5,1408.5 C1092,1411 1116.5,1425 1116.5,1467 L1116.5,3218.5 C1116.5,3268.5 1146,3308.5 1202.5,3308.5"/>
<path d="M1075.5,1408.5 C1092,1411 1120.5,1425 1120.5,1467 L1120.5,3318.5 C1120.5,3368.5 1147,3408.5 1198.5,3408.5"/>
<path d="M1075.5,1408.5 C1092,1411 1118.5,1425 1118.5,1467 L1118.5,3418.5 C1118.5,3468.5 1140,3508.5 1179.5,3508.5"/>
<path d="M1379.5,1108.5 C1420,1108 1440,1092 1460,1082 C1470,1078 1475,1077.5 1489.5,1077.5"/>
<!-- ROUTE_INSTANCES children -->
<path d="M777.5,616.5 C805,612 820.5,590 820.5,540 L820.5,480 C822,450 838,439.5 863.5,439.5"/>
<path d="M777.5,616.5 C810,618 835,624.5 870.5,624.5"/>
<path d="M777.5,616.5 C805,622 818,650 819,700 C820,745 835,766.5 859.5,766.5"/>
<path d="M777.5,616.5 C800,612 820,585 860,572 C920,556 990,575 1040,565 C1080,555 1101.5,520 1101.5,470 L1104.5,240 C1104.5,190 1115,149.5 1148,149.5"/>
<path d="M777.5,616.5 C800,625 815,660 840,672 C880,690 950,715 1000,717 C1050,718 1085,690 1095,650 C1100.5,620 1100.5,600 1100.5,560 L1100.5,90 C1100.5,50 1115,27 1135,27 C1150,27 1158,44.5 1179.5,44.5"/>
<!-- EJS_CODES -> AGENCY_CODES lens -->
<path d="M201.5,1152.5 C245,1040.3 330,1040.3 376.5,1137.7"/>
<path d="M201.5,1152.5 C245,1054.3 330,1054.3 376.5,1139.6"/>
<path d="M201.5,1152.5 C245,1068.3 330,1068.3 376.5,1141.4"/>
<path d="M201.5,1152.5 C245,1082.3 330,1082.3 376.5,1143.2"/>
<path d="M201.5,1152.5 C245,1096.3 330,1096.3 376.5,1145"/>
<path d="M201.5,1152.5 C245,1110.3 330,1110.3 376.5,1146.8"/>
<path d="M201.5,1152.5 C245,1124.3 330,1124.3 376.5,1148.7"/>
<path d="M201.5,1152.5 C245,1138.3 330,1138.3 376.5,1150.5"/>
<path d="M201.5,1152.5 C245,1166.3 330,1166.3 376.5,1154.1"/>
<path d="M201.5,1152.5 C245,1180.3 330,1180.3 376.5,1156"/>
<path d="M201.5,1152.5 C245,1194.3 330,1194.3 376.5,1157.8"/>
<path d="M201.5,1152.5 C245,1208.3 330,1208.3 376.5,1159.6"/>
<path d="M201.5,1152.5 C245,1222.3 330,1222.3 376.5,1161.4"/>
<path d="M201.5,1152.5 C245,1236.3 330,1236.3 376.5,1163.2"/>
<path d="M201.5,1152.5 C245,1250.3 330,1250.3 376.5,1165"/>
<path d="M201.5,1152.5 C245,1264.3 330,1264.3 376.5,1166.9"/>
<!-- EJS_CODES -> USER_SCREENS -->
<path d="M201.5,1152.5 C300,1100 420,1030 520,1030 C570,1030 600,1039.5 630.5,1039.5"/>
<path d="M201.5,1152.5 C300,1110 440,1050 540,1042 C580,1039 600,1042.5 630.5,1042.5"/>
<path d="M201.5,1152.5 C300,1120 450,1065 550,1052 C590,1047 605,1045.5 630.5,1045.5"/>
<path d="M201.5,1152.5 C320,1130 460,1085 560,1062 C595,1054 610,1048.5 630.5,1048.5"/>
<path d="M201.5,1152.5 C330,1140 470,1100 570,1075 C600,1065 612,1051.5 630.5,1051.5"/>
<!-- EJS_CODES -> ROUTE_TEMPLATES -->
<path d="M201.5,1152.5 C240,1140 275,1120 285,1080 C295,1040 295,990 305,965 C315,945 335,936.5 364.5,936.5"/>
<path d="M201.5,1152.5 C245,1135 282,1110 290,1070 C298,1030 300,985 312,960 C322,942 340,939.5 364.5,939.5"/>
<!-- EJS_CODES -> ROUTE_INSTANCES -->
<path d="M201.5,1152.5 C250,1130 290,1080 295,1000 C300,920 305,860 320,820 C345,760 420,700 480,680 C530,665 570,664.5 613.5,664.5"/>
<path d="M201.5,1152.5 C255,1125 290,1070 293,1000 C296,940 300,900 320,860 C345,820 420,805 480,800 C540,795 565,760 575,720 C582,700 595,688.5 613.5,688.5"/>
<!-- EJS_CODES -> ROUTE_ACTION_INSTANCES -->
<path d="M201.5,1152.5 C240,1120 275,1080 280,1000 C285,900 262,760 272,640 C280,580 300,530 344,491 C380,460 420,430 480,414 C520,404 560,404 600,407 C700,420 780,436.5 863.5,436.5"/>
<path d="M201.5,1152.5 C242,1122 279,1082 284,1000 C289,900 266,760 276,641 C284,582 303,533 347,494 C383,463 423,433 483,417 C523,407 563,407 603,410 C703,423 780,437.5 863.5,437.5"/>
<!-- EJS_CODES -> USER_SCREEN_AUDIT_LOG -->
<path d="M201.5,1152.5 C240,1120 280,1000 290,900 C295,840 310,760 356,695 C400,640 480,590 587,564 C700,540 950,530 1062,497 C1090,488 1105,470 1110,430 C1113,400 1135,370.5 1181.5,370.5"/>
<path d="M201.5,1152.5 C242,1122 283,1003 293,903 C298,843 313,763 359,698 C403,643 483,593 590,567 C703,543 953,533 1065,500 C1093,491 1108,473 1113,433 C1116,403 1138,372.5 1181.5,372.5"/>
<!-- EJS_CODES -> USER_SCREEN_COMMENTS -->
<path d="M201.5,1152.5 C240,1120 280,1000 292,910 C298,875 340,860 400,857 C500,853 700,865 830,866 C950,866 1040,845 1080,825 C1098,812 1105.5,785 1105.5,740 L1107.5,140 C1107.5,80 1135,50.5 1179.5,50.5"/>
<path d="M201.5,1152.5 C243,1123 283,1003 295,913 C301,878 343,863 403,860 C503,856 703,868 833,869 C953,869 1043,848 1083,828 C1101,815 1108.5,788 1108.5,743 L1110.5,140 C1110.5,82 1138,52.5 1179.5,52.5"/>
<!-- EJS_CODES -> USER_SCREEN_TYPES -->
<path d="M201.5,1152.5 C225,1190 250,1240 280,1270 C300,1290 320,1301.5 353.5,1301.5"/>
<path d="M201.5,1152.5 C230,1195 260,1250 290,1278 C310,1297 325,1305.5 353.5,1305.5"/>
<!-- EJS_CODES -> USER_SCREEN_INSTANCES -->
<path d="M201.5,1152.5 C240,1200 280,1300 320,1370 C360,1440 450,1490 560,1500 C680,1510 770,1520 800,1555 C815,1575 818,1610 830,1630 C840,1645 850,1648.5 866.5,1648.5"/>
<path d="M201.5,1152.5 C240,1200 285,1230 292,1300 C298,1380 330,1460 395,1520 C450,1570 540,1630 624,1656 C700,1675 800,1672.5 866.5,1672.5"/>
<!-- AGENCY_CODES children -->
<path d="M507.5,1152.5 C540,1150 560,1125 570,1100 C585,1065 600,1045.5 630.5,1045.5"/>
<path d="M507.5,1152.5 C535,1155 560,1175 580,1200 C600,1230 620,1252.5 653.5,1252.5"/>
<path d="M507.5,1152.5 C540,1160 552,1200 556,1240 C560,1290 580,1315 636,1324 C700,1332 760,1312 797,1331 C815,1345 822,1370 825,1420 C828,1480 840,1504.5 866.5,1504.5"/>
<path d="M507.5,1152.5 C600,1150 690,1120 760,1090 C800,1072 818,1040 820.5,990 L822.5,830 C823,790 835,771.5 859.5,771.5"/>
<path d="M507.5,1152.5 C600,1140 700,1120 800,1095 C900,1070 1000,1000 1060,940 C1090,905 1101.5,860 1101.5,800 L1104.5,440 C1106,400 1140,376.5 1181.5,376.5"/>
<path d="M507.5,1152.5 C650,1152 800,1150 900,1130 C1000,1110 1060,1070 1085,1030 C1100,1000 1102.5,950 1102.5,900 L1105.5,100 C1107,60 1140,44.5 1179.5,44.5"/>
<path d="M507.5,1152.5 C620,1160 800,1190 940,1197 C1020,1200 1080,1175 1115,1140 C1140,1118 1160,1108.5 1190.5,1108.5"/>
<!-- ROUTE_TEMPLATES children -->
<path d="M519.5,936.5 C545,934 565,920 570,890 C578,850 560.5,760 560.5,700 C560.5,660 585,640.5 613.5,640.5"/>
<path d="M519.5,936.5 C545,940 565,960 575,990 C588,1025 605,1043.5 630.5,1043.5"/>
<path d="M519.5,936.5 C600,931 700,925 760,960 C800,985 818.5,1020 818.5,1080 L820.5,1570 C822,1640 840,1696.5 866.5,1696.5"/>
<!-- other parents -> USER_SCREEN_INSTANCES -->
<path d="M759.5,1044.5 C780,1050 798,1070 802,1100 L811,1234 C815,1300 818,1360 830,1400 C840,1425 850,1432.5 866.5,1432.5"/>
<path d="M737.5,1252.5 C765,1255 785,1280 800,1310 C815,1340 822,1380 824,1430 C826,1465 840,1480.5 866.5,1480.5"/>
<path d="M529.5,1303.5 C548,1305 558,1325 562,1350 C566,1375 575,1388.5 595.5,1388.5"/>
<path d="M529.5,1303.5 C548,1306 556,1340 560,1390 C565,1440 610,1470 680,1476 C760,1480 820,1456.5 866.5,1456.5"/>
<path d="M794.5,1388.5 C815,1392 822.5,1420 822.5,1460 L822.5,1660 C822.5,1700 840,1720.5 866.5,1720.5"/>
<!-- INCIDENT_SECURITY_LEVEL_CODES children -->
<path d="M288.5,1456.5 C380,1460 480,1490 567,1520 C640,1545 700,1590 774,1617 C810,1625 840,1624.5 866.5,1624.5"/>
<path d="M288.5,1456.5 C305,1450 320,1400 330,1330 C338,1260 345,1200 355,1180 C362,1168 368,1166.5 376.5,1166.5"/>
<path d="M288.5,1456.5 C400,1450 520,1420 555,1360 C575,1320 572,1200 578,1120 C582,1080 600,1047.5 630.5,1047.5"/>
</g>

<text x="16" y="3584" style="font-family:'DejaVu Sans Mono','Liberation Mono',monospace;font-size:11px;fill:#000">Generated by SchemaSpy</text>
</svg>
